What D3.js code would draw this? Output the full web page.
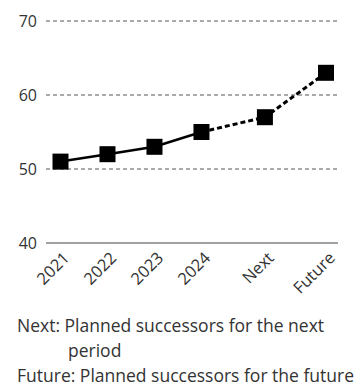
<!DOCTYPE html>
<html>
<head>
<meta charset="utf-8">
<script src="https://cdn.jsdelivr.net/npm/d3@7"></script>
<style>
  body { margin: 0; background: #fff; }
  text { font-family: "Open Sans", sans-serif; fill: #333; }
</style>
</head>
<body>
<svg width="362" height="390"></svg>
<script>
// data
var categories = ["2021", "2022", "2023", "2024", "Next", "Future"];
var slots = [0, 1, 2, 3, 4.35, 5.65];          // Next/Future sit a bit further apart
var values = [51, 52, 53, 55, 57, 63];
var yTicks = [40, 50, 60, 70];
var notes = [
  ["Next:", "Planned successors for the next", "period"],
  ["Future:", "Planned successors for the future"]
];

var svg = d3.select("svg"),
    margin = {top: 21, left: 46, right: 24},
    plotH = 222;

var x = d3.scaleLinear().domain([0, 5.65]).range([60.5, 326]);
var y = d3.scaleLinear().domain([40, 70]).range([margin.top + plotH, margin.top]);

var data = categories.map(function(c, i) {
  return {cat: c, pos: slots[i], val: values[i]};
});

// grid + y labels
var g = svg.append("g");
g.selectAll(".grid")
  .data(yTicks)
  .enter().append("line")
    .attr("x1", margin.left)
    .attr("x2", 338)
    .attr("y1", function(d) { return y(d); })
    .attr("y2", function(d) { return y(d); })
    .style("stroke", function(d) { return d == 40 ? "#444" : "#555"; })
    .style("stroke-width", 1)
    .style("stroke-dasharray", function(d) { return d == 40 ? null : "4,3"; });

g.selectAll(".ylab")
  .data(yTicks)
  .enter().append("text")
    .attr("x", 37)
    .attr("y", function(d) { return y(d); })
    .attr("dy", "0.36em")
    .style("text-anchor", "end")
    .style("font-size", "16px")
    .text(function(d) { return d; });

// x labels, rotated
g.selectAll(".xlab")
  .data(data)
  .enter().append("text")
    .attr("transform", function(d) {
      return "translate(" + (x(d.pos) + 10) + "," + (y(40) + 16) + ") rotate(-45)";
    })
    .style("text-anchor", "end")
    .style("font-size", "16.5px")
    .text(function(d) { return d.cat; });

var line = d3.line()
  .x(function(d) { return x(d.pos); })
  .y(function(d) { return y(d.val); });

// actual years solid, plans dashed
g.append("path")
  .datum(data.slice(0, 4))
  .attr("d", line)
  .style("fill", "none")
  .style("stroke", "#000")
  .style("stroke-width", "2.5px");

g.append("path")
  .datum(data.slice(3))
  .attr("d", line)
  .style("fill", "none")
  .style("stroke", "#000")
  .style("stroke-width", "3px")
  .style("stroke-dasharray", "5,3");

var s = 16;
g.selectAll(".pt")
  .data(data)
  .enter().append("rect")
    .attr("x", function(d) { return x(d.pos) - s / 2; })
    .attr("y", function(d) { return y(d.val) - s / 2; })
    .attr("width", s)
    .attr("height", s)
    .style("fill", "#000");

// footnotes
var fn = svg.append("g").style("font-size", "17.5px");
fn.append("text").attr("x", 17).attr("y", 332).text(notes[0][0] + " " + notes[0][1]);
fn.append("text").attr("x", 68).attr("y", 357).text(notes[0][2]);
fn.append("text").attr("x", 17).attr("y", 382).text(notes[1][0] + " " + notes[1][1]);
</script>
</body>
</html>
